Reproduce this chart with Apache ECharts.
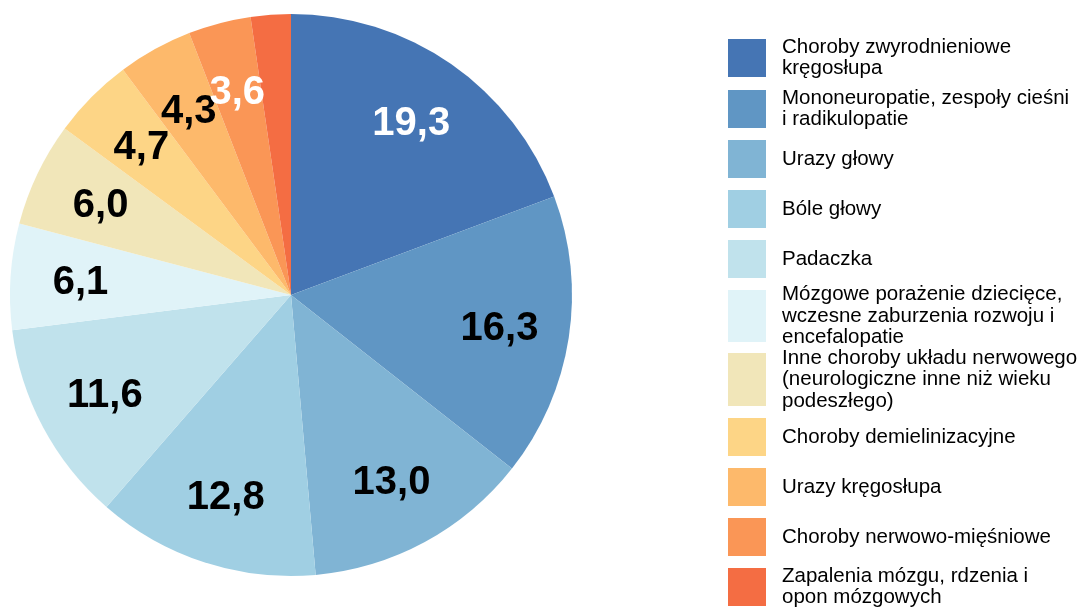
<!DOCTYPE html>
<html>
<head>
<meta charset="utf-8">
<script src="https://cdn.jsdelivr.net/npm/echarts@6/dist/echarts.min.js"></script>
<style>
html,body{margin:0;padding:0;background:#fff;}
#chart{width:1084px;height:608px;}
</style>
</head>
<body>
<div id="chart"></div>
<script>
const categories = [
  'Choroby zwyrodnieniowe\nkręgosłupa',
  'Mononeuropatie, zespoły cieśni\ni radikulopatie',
  'Urazy głowy',
  'Bóle głowy',
  'Padaczka',
  'Mózgowe porażenie dziecięce,\nwczesne zaburzenia rozwoju i\nencefalopatie',
  'Inne choroby układu nerwowego\n(neurologiczne inne niż wieku\npodeszłego)',
  'Choroby demielinizacyjne',
  'Urazy kręgosłupa',
  'Choroby nerwowo-mięśniowe',
  'Zapalenia mózgu, rdzenia i\nopon mózgowych'
];
const values = [19.3, 16.3, 13.0, 12.8, 11.6, 6.1, 6.0, 4.7, 4.3, 3.6, 2.3];
const colors = ['#4575b4', '#6096c4', '#80b4d4', '#a0cfe3', '#c0e2ec', '#e0f3f8',
                '#f1e6b9', '#fdd586', '#fdb96b', '#fa9656', '#f46d43'];
const showLabel = [true, true, true, true, true, true, true, true, true, true, false];
const labelColors = ['#ffffff', '#000', '#000', '#000', '#000', '#000', '#000', '#000', '#000', '#ffffff', '#000'];

// legend layout (icon top, icon height)
const legendIconTop = [39, 90, 140, 190, 240, 290, 353, 418, 468, 518, 568];
const legendIconH = [38, 38, 38, 38, 38, 52, 53, 38, 38, 38, 38];

const FONT = "'Liberation Sans', Arial, sans-serif";
const LH = 21.5;

const legends = categories.map((name, i) => {
  const lines = name.split('\n').length;
  const textH = lines * LH;
  const h = legendIconH[i];
  const top = textH > h ? legendIconTop[i] + h / 2 - textH / 2 : legendIconTop[i];
  return {
    data: [name],
    left: 728,
    top: top,
    padding: 0,
    orient: 'vertical',
    icon: 'rect',
    itemWidth: 38,
    itemHeight: h,
    selectedMode: false,
    textStyle: {
      fontFamily: FONT,
      fontSize: 20.5,
      lineHeight: LH,
      color: '#000',
      padding: [0, 0, 0, 11]
    }
  };
});

const pieData = categories.map((name, i) => ({
  name: name,
  value: values[i],
  itemStyle: { color: colors[i] }
}));

const labelData = categories.map((name, i) => ({
  name: name,
  value: values[i],
  label: { show: showLabel[i], color: labelColors[i] }
}));

const chart = echarts.init(document.getElementById('chart'), null, { renderer: 'canvas' });
chart.setOption({
  animation: false,
  backgroundColor: '#ffffff',
  legend: legends,
  series: [
    {
      type: 'pie',
      center: [291, 295],
      radius: [0, 281],
      startAngle: 90,
      clockwise: true,
      label: { show: false },
      labelLine: { show: false },
      silent: true,
      data: pieData
    },
    {
      type: 'pie',
      center: [291, 297],
      radius: [135, 281],
      startAngle: 90,
      clockwise: true,
      silent: true,
      avoidLabelOverlap: false,
      labelLayout: { hideOverlap: false, moveOverlap: null },
      itemStyle: { color: 'rgba(0,0,0,0)' },
      labelLine: { show: false },
      label: {
        show: true,
        position: 'inside',
        fontFamily: FONT,
        fontWeight: 'bold',
        fontSize: 40,
        formatter: p => p.value.toFixed(1).replace('.', ',')
      },
      data: labelData
    }
  ]
});
</script>
</body>
</html>
